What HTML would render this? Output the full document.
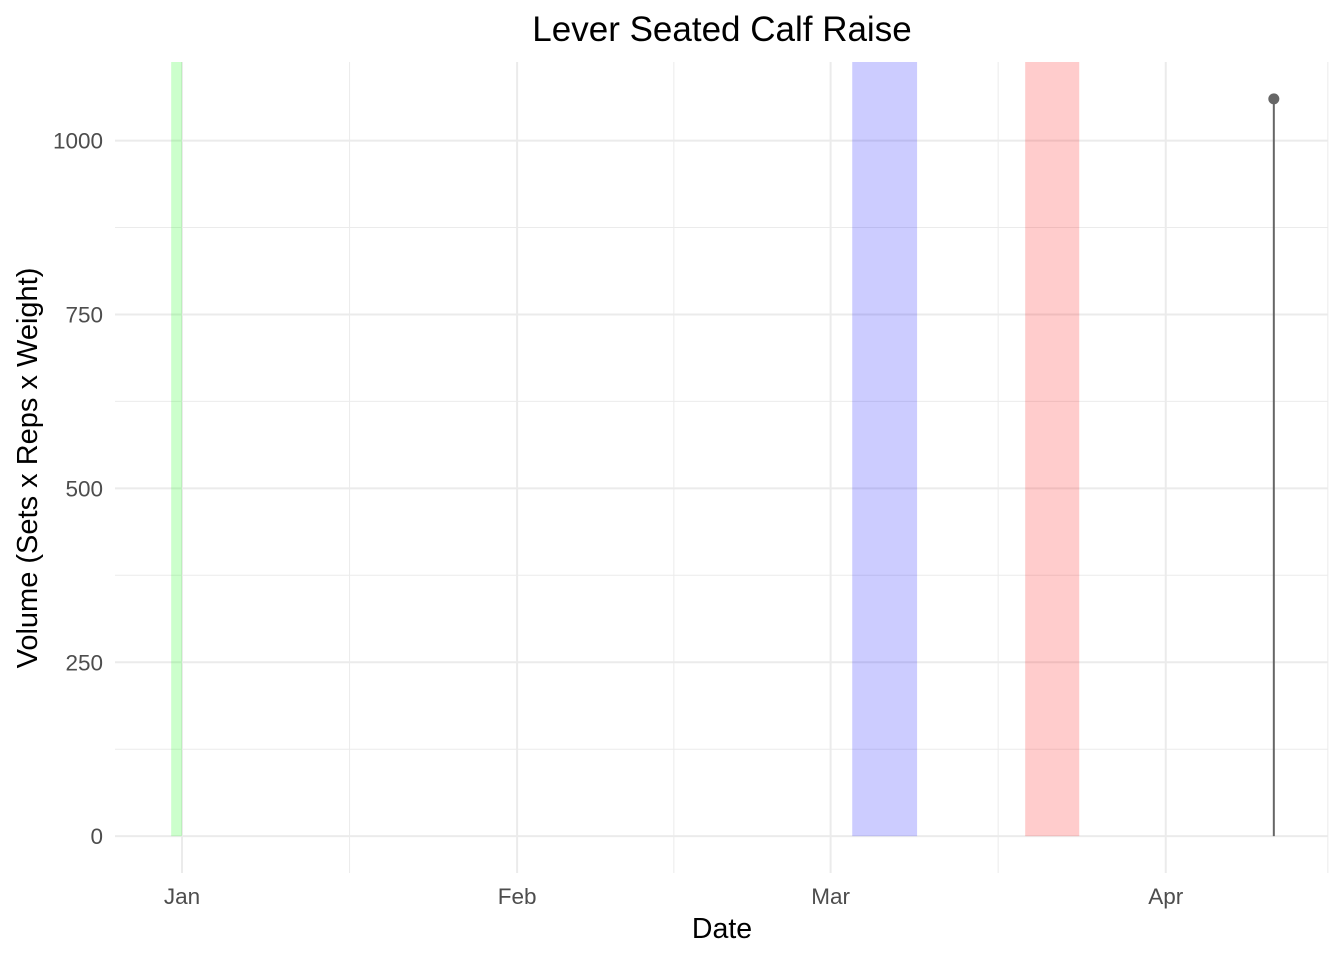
<!DOCTYPE html>
<html><head><meta charset="utf-8"><style>
html,body{margin:0;padding:0;background:#fff;}
svg{display:block;font-family:"Liberation Sans",sans-serif;}
</style></head><body>
<svg id="chart" width="1344" height="960">
<rect width="1344" height="960" fill="#fff"/>
<text x="722" y="41" text-anchor="middle" font-size="35" fill="#000">Lever Seated Calf Raise</text>
<g id="grid"></g><g id="bands"></g><g id="marks"></g><g id="axes"></g>
<text x="722" y="938" text-anchor="middle" font-size="28.5" fill="#000">Date</text>
<text transform="translate(37,468) rotate(-90)" text-anchor="middle" font-size="29" fill="#000">Volume (Sets x Reps x Weight)</text>
</svg>
<script>
const xTickDates = ["2024-01-01","2024-02-01","2024-03-01","2024-04-01"];
const xTickLabels = ["Jan","Feb","Mar","Apr"];
const xMinorDates = ["2024-01-16T12:00","2024-02-15T12:00","2024-03-16T12:00","2024-04-16T00:00"];
const yTicks = [0,250,500,750,1000];
const yMinor = [125,375,625,875];
const bandStarts = ["2023-12-31","2024-03-03","2024-03-19"];
const bandEnds = ["2024-01-01","2024-03-09","2024-03-24"];
const bandColors = ["#00ff00","#0000ff","#ff0000"];
const pointDates = ["2024-04-11"];
const pointValues = [1060];

const NS="http://www.w3.org/2000/svg";
const L=116,R=1329,T=62,B=873;
const d0=Date.parse("2023-12-25T21:30"), d1=Date.parse("2024-04-16T02:30");
const x=d=>L+(Date.parse(d)-d0)/(d1-d0)*(R-L);
const yMin=-53,yMax=1113;
const y=v=>B-(v-yMin)/(yMax-yMin)*(B-T);
function mk(tag,attrs,parent){const e=document.createElementNS(NS,tag);for(const k in attrs)e.setAttribute(k,attrs[k]);document.getElementById(parent).appendChild(e);return e;}

yMinor.forEach(v=>{const e=mk("line",{x1:115,x2:1328,y1:y(v),y2:y(v),stroke:"#ebebeb","stroke-width":1},"grid");

});
xMinorDates.forEach(d=>{const e=mk("line",{x1:x(d),x2:x(d),y1:T,y2:B,stroke:"#ebebeb","stroke-width":1},"grid");

});
yTicks.forEach(v=>{const e=mk("line",{x1:115,x2:1328,y1:y(v),y2:y(v),stroke:"#ebebeb","stroke-width":2},"grid");


const t=mk("text",{x:103,y:y(v)+8,"text-anchor":"end","font-size":22.5,fill:"#4d4d4d"},"axes");t.textContent=v;

});
xTickDates.forEach((d,i)=>{const e=mk("line",{x1:x(d),x2:x(d),y1:T,y2:B,stroke:"#ebebeb","stroke-width":2},"grid");


const t=mk("text",{x:x(d),y:904,"text-anchor":"middle","font-size":22.5,fill:"#4d4d4d"},"axes");t.textContent=xTickLabels[i];

});
bandStarts.forEach((s,i)=>{const x0=x(s),x1=x(bandEnds[i]);
const r=mk("rect",{x:x0,y:T,width:x1-x0,height:y(0)-T,fill:bandColors[i],"fill-opacity":0.2},"bands");

});
pointDates.forEach((d,i)=>{const l=mk("line",{x1:x(d),x2:x(d),y1:y(0),y2:y(pointValues[i]),stroke:"#666","stroke-width":2},"marks");


const c=mk("circle",{cx:x(d),cy:y(pointValues[i]),r:5.5,fill:"#666"},"marks");

});
</script>
</body></html>
